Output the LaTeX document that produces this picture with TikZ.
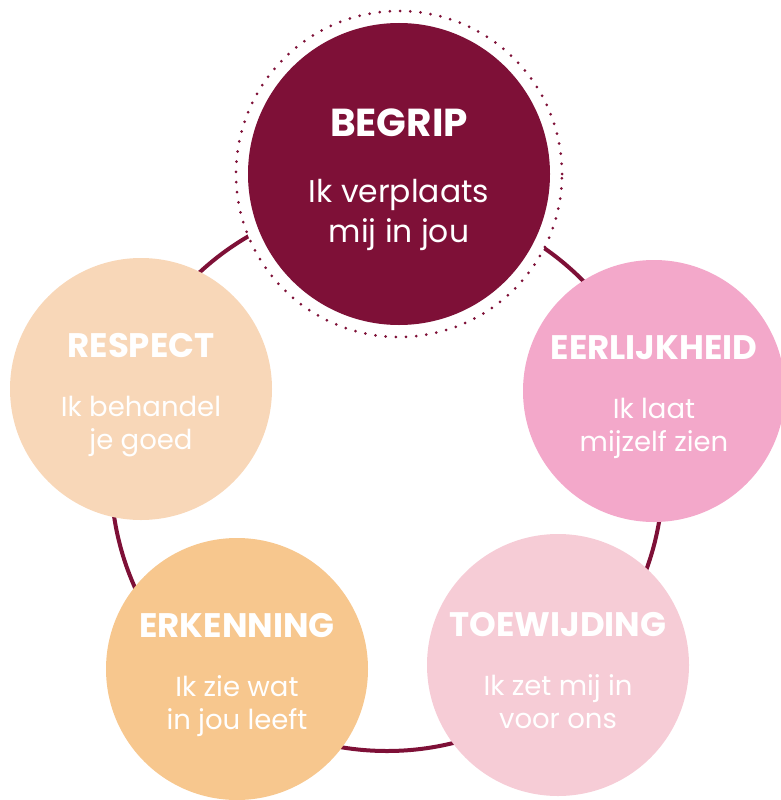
\documentclass[tikz,border=0pt]{standalone}
\usepackage{fontspec}
\setmainfont{Poppins}

\definecolor{wine}{HTML}{7E1037}
\definecolor{peach}{HTML}{F8D7B8}
\definecolor{rose}{HTML}{F3A8CA}
\definecolor{apricot}{HTML}{F7C78E}
\definecolor{blush}{HTML}{F6CCD6}

\newcommand{\ttl}[2]{{\fontsize{#1}{#1}\selectfont\bfseries #2}}

\begin{document}
\begin{tikzpicture}[
  x=1pt,y=-1pt,
  disc/.style={circle,fill=#1,minimum size=262pt,inner sep=0pt},
  caption/.style={text=white,align=center,inner sep=0pt,yshift=-6pt,
    font=\fontsize{27.5}{33}\selectfont},
  ring/.style={draw=wine,line width=4pt},
  halo/.style={circle,fill=white,draw=wine,line width=3pt,
    dash pattern=on 0pt off 10.2pt,line cap=round,minimum size=326pt}]

  \useasboundingbox (0,0) rectangle (780,800);

  % ---- ring behind the discs ----
  \coordinate (hub) at (387,475);
  \draw[ring] (hub) circle[radius=276pt];

  % ---- top disc ----
  \node[halo] (aura) at (399,174) {};
  \node[disc=wine,minimum size=302pt] (begrip) at (399,174) {};
  \node[caption,font=\fontsize{31.4}{40}\selectfont] (begrip-t) at (begrip)
    {\ttl{39}{BEGRIP}\\[26pt]Ik verplaats\\mij in jou};

  % ---- other discs ----
  \node[disc=peach] (respect) at (141,389) {};
  \node[caption] (respect-t) at (respect)
    {\ttl{34}{RESPECT}\\[26pt]Ik behandel\\je goed};

  \node[disc=rose] (eerlijk) at (654,391) {};
  \node[caption] (eerlijk-t) at (eerlijk)
    {\ttl{34}{EERLIJKHEID}\\[26pt]Ik laat\\mijzelf zien};

  \node[disc=apricot] (erkenning) at (237,669) {};
  \node[caption] (erkenning-t) at (erkenning)
    {\ttl{34}{ERKENNING}\\[26pt]Ik zie wat\\in jou leeft};

  \node[disc=blush] (toewijding) at (558,665) {};
  \node[caption] (toewijding-t) at (toewijding)
    {\ttl{34}{TOEWIJDING}\\[26pt]Ik zet mij in\\voor ons};
\end{tikzpicture}
\end{document}
